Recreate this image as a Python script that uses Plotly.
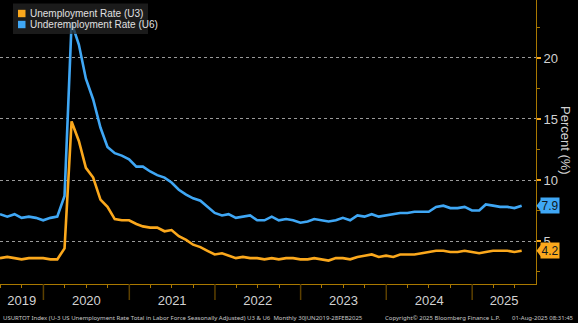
import pandas as pd
import plotly.graph_objects as go

# ---- data (monthly, month-end, Jun 2019 - Jul 2025) ----
u3 = [3.6, 3.7, 3.6, 3.5, 3.6, 3.6, 3.6,
      3.5, 3.5, 4.4, 14.8, 13.2, 11.0, 10.2, 8.4, 7.8, 6.8, 6.7, 6.7,
      6.4, 6.2, 6.1, 6.1, 5.8, 5.9, 5.4, 5.1, 4.7, 4.5, 4.2, 3.9,
      4.0, 3.8, 3.6, 3.7, 3.6, 3.6, 3.5, 3.6, 3.5, 3.6, 3.6, 3.5,
      3.5, 3.6, 3.5, 3.4, 3.6, 3.6, 3.5, 3.7, 3.8, 3.9, 3.7, 3.8,
      3.7, 3.9, 3.9, 3.9, 4.0, 4.1, 4.2, 4.2, 4.1, 4.1, 4.2, 4.1,
      4.0, 4.1, 4.2, 4.2, 4.2, 4.1, 4.2]
u6 = [7.2, 7.0, 7.2, 6.9, 7.0, 6.9, 6.7,
      6.9, 7.0, 8.7, 22.9, 21.1, 18.3, 16.6, 14.3, 12.7, 12.2, 12.0, 11.7,
      11.1, 11.1, 10.7, 10.4, 10.2, 9.8, 9.2, 8.8, 8.5, 8.3, 7.8, 7.3,
      7.1, 7.2, 6.9, 7.0, 7.1, 6.7, 6.7, 7.0, 6.7, 6.8, 6.7, 6.5,
      6.6, 6.8, 6.7, 6.6, 6.7, 6.9, 6.7, 7.1, 7.0, 7.2, 7.0, 7.1,
      7.2, 7.3, 7.3, 7.4, 7.4, 7.4, 7.8, 7.9, 7.7, 7.7, 7.8, 7.5,
      7.5, 8.0, 7.9, 7.8, 7.8, 7.7, 7.9]
dates = pd.date_range("2019-06-30", periods=len(u3), freq="ME")
years = [2019, 2020, 2021, 2022, 2023, 2024, 2025]
y_ticks = [5, 10, 15, 20]
y_minor = [2.5, 7.5, 12.5, 17.5, 22.5]

# ---- styling ----
ORANGE = "#FBA81C"
BLUE = "#3FA7F5"
AXIS = "#A97800"
SEP = "#5C4000"
TXT = "#D2D2D2"
FONT = "Liberation Sans"

x_start = pd.Timestamp("2019-06-30")
x_end = pd.Timestamp("2025-09-30")
y_range = [1.48, 24.75]

fig = go.Figure()
fig.add_trace(go.Scatter(x=dates, y=u6, mode="lines", line=dict(color=BLUE, width=2.6),
                         showlegend=False, hoverinfo="skip"))
fig.add_trace(go.Scatter(x=dates, y=u3, mode="lines", line=dict(color=ORANGE, width=2.6),
                         showlegend=False, hoverinfo="skip"))

# year label positions: middle of the visible part of each year
label_pos = []
for yr in years:
    a = max(pd.Timestamp(f"{yr}-01-01"), x_start)
    b = min(pd.Timestamp(f"{yr + 1}-01-01"), x_end)
    label_pos.append(a + (b - a) / 2)
quarters = [d for d in pd.date_range("2019-04-01", "2025-12-31", freq="QS")
            if x_start < d < x_end and d.month != 1]

fig.update_layout(
    width=578, height=323,
    margin=dict(l=0, r=42, t=0, b=39),
    paper_bgcolor="black", plot_bgcolor="black",
    font=dict(family=FONT, color=TXT),
    xaxis=dict(
        range=[x_start, x_end], showgrid=False, zeroline=False,
        showline=True, linecolor=AXIS, linewidth=1,
        tickvals=label_pos, ticktext=[str(y) for y in years],
        ticks="", tickfont=dict(size=13, color=TXT, family=FONT),
        ticklabelstandoff=4,
        minor=dict(tickvals=quarters, ticks="outside", ticklen=3, tickcolor=AXIS, tickwidth=1),
    ),
    yaxis=dict(
        range=y_range, side="right", showline=True, linecolor=AXIS, linewidth=1,
        tickvals=y_ticks, ticks="outside", ticklen=4, tickcolor=ORANGE, tickwidth=2,
        tickfont=dict(size=13, color=TXT, family=FONT),
        showgrid=True, gridcolor="#9A9A9A", griddash="dot", gridwidth=1,
        zeroline=False,
        minor=dict(tickvals=y_minor, ticks="outside", ticklen=3, tickcolor=AXIS, tickwidth=1),
    ),
    showlegend=False,
)

shapes = []
# year separators below the axis
for yr in years[1:]:
    d = pd.Timestamp(f"{yr}-01-01")
    shapes.append(dict(type="line", xref="x", yref="paper", x0=d, x1=d, y0=0, y1=-16 / 284,
                       line=dict(color=SEP, width=1.5)))

# legend (custom, squares)
W, H = 536.0, 284.0
def px(x):
    return x / W
def py(y):
    return 1 - y / H

shapes.append(dict(type="rect", xref="paper", yref="paper", x0=px(13), x1=px(148),
                   y0=py(34), y1=py(3.5), fillcolor="rgba(38,38,38,0.72)",
                   line=dict(width=0), layer="above"))
legend_items = [("Unemployment Rate (U3)", ORANGE, 13.5), ("Underemployment Rate (U6)", BLUE, 24.5)]
annotations = []
for name, col, yc in legend_items:
    shapes.append(dict(type="rect", xref="paper", yref="paper", x0=px(18), x1=px(25.5),
                       y0=py(yc + 3.7), y1=py(yc - 3.7), fillcolor=col, line=dict(width=0),
                       layer="above"))
    annotations.append(dict(text=name, xref="paper", yref="paper", x=px(28), y=py(yc),
                            xanchor="left", yanchor="middle", showarrow=False,
                            font=dict(size=10, color="#E0E0E0", family=FONT)))

# last value labels with pointer
for vals, col in [(u6, BLUE), (u3, ORANGE)]:
    v = vals[-1]
    annotations.append(dict(text=f"{v:.1f}", xref="paper", yref="y", x=px(540), y=v,
                            xanchor="left", yanchor="middle", showarrow=False,
                            bgcolor=col, borderpad=0.5,
                            font=dict(size=12, color="#101820", family=FONT)))
    h = 6 / 12.2
    shapes.append(dict(type="path", xref="paper", yref="y",
                       path=f"M {px(536.5)} {v} L {px(541)} {v + h} L {px(541)} {v - h} Z",
                       fillcolor=col, line=dict(width=0), layer="above"))

# axis title
annotations.append(dict(text="Percent (%)", xref="paper", yref="paper", x=px(566), y=py(140),
                        textangle=90, showarrow=False, xanchor="center", yanchor="middle",
                        font=dict(size=13, color=TXT, family=FONT)))

# footer
foot_y = -(318 - 284) / H
FS = 6
FF = "Noto Sans"
annotations += [
    dict(text="USURTOT Index (U-3 US Unemployment Rate Total in Labor Force Seasonally Adjusted) U3 & U6  Monthly 30JUN2019-28FEB2025",
         xref="paper", yref="paper", x=px(1), y=foot_y, xanchor="left", yanchor="middle",
         showarrow=False, font=dict(size=FS, color="#C8C8C8", family=FF)),
    dict(text="Copyright\u00a9 2025 Bloomberg Finance L.P.", xref="paper", yref="paper",
         x=px(383), y=foot_y, xanchor="left", yanchor="middle", showarrow=False,
         font=dict(size=FS, color="#C8C8C8", family=FF)),
    dict(text="01-Aug-2025 08:31:45", xref="paper", yref="paper", x=px(576), y=foot_y,
         xanchor="right", yanchor="middle", showarrow=False,
         font=dict(size=FS, color="#C8C8C8", family=FF)),
]

fig.update_layout(shapes=shapes, annotations=annotations)
fig.write_html("out.html")
